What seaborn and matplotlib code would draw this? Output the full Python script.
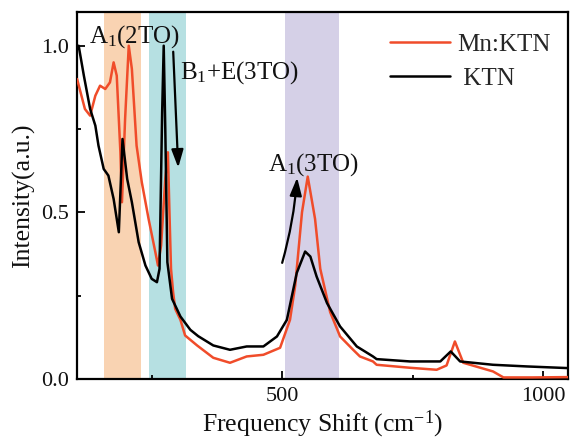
import numpy as np
import matplotlib
matplotlib.use('Agg')
from matplotlib import pyplot as plt
from matplotlib.ticker import MultipleLocator
import seaborn as sns

# Raman spectra (frequency shift in cm-1, intensity a.u.)
mn_shift = [107, 122, 132, 142, 151, 161, 170, 177, 183, 190, 193, 199, 206,
            212, 221, 231, 244, 257, 262, 268, 276, 281, 284, 287, 291, 295,
            305, 314, 337, 368, 400, 432, 464, 496, 515, 525, 538, 549, 563,
            573, 592, 611, 636, 649, 674, 681, 745, 796, 815, 831, 847, 904,
            924, 980, 1048]
mn_intensity = [0.90, 0.81, 0.79, 0.85, 0.88, 0.87, 0.89, 0.95, 0.91, 0.68,
                0.53, 0.78, 1.00, 0.93, 0.70, 0.59, 0.48, 0.38, 0.34, 0.40,
                0.60, 0.68, 0.50, 0.33, 0.26, 0.21, 0.177, 0.13, 0.10, 0.063,
                0.048, 0.067, 0.072, 0.093, 0.177, 0.28, 0.50, 0.607, 0.48,
                0.33, 0.20, 0.127, 0.087, 0.067, 0.052, 0.042, 0.033, 0.027,
                0.040, 0.112, 0.048, 0.022, 0.004, 0.004, 0.005]

ktn_shift = [107, 110, 120, 132, 142, 148, 158, 167, 177, 183, 187, 194, 203,
             212, 225, 238, 250, 260, 265, 270, 273, 276, 280, 289, 305, 324,
             339, 368, 400, 432, 464, 490, 509, 528, 544, 554, 566, 586, 611,
             643, 674, 681, 745, 803, 823, 841, 904, 969, 1048]
ktn_intensity = [0.99, 1.00, 0.91, 0.81, 0.76, 0.70, 0.63, 0.61, 0.54, 0.48,
                 0.44, 0.72, 0.60, 0.53, 0.41, 0.34, 0.30, 0.29, 0.33, 0.80,
                 1.00, 0.75, 0.35, 0.24, 0.187, 0.147, 0.128, 0.100, 0.087,
                 0.097, 0.097, 0.127, 0.177, 0.318, 0.382, 0.367, 0.307,
                 0.227, 0.157, 0.097, 0.067, 0.059, 0.052, 0.052, 0.082,
                 0.052, 0.042, 0.037, 0.032]

# highlighted mode regions
band_lo = [159, 245, 506]
band_hi = [229, 316, 609]
band_colors = ['#f9d3b2', '#b6e0e2', '#d5d0e7']

red = '#f04c2a'

sns.set_theme(style='ticks')
plt.rcParams['font.family'] = ['Liberation Serif', 'DejaVu Serif']
plt.rcParams['mathtext.fontset'] = 'custom'
plt.rcParams['mathtext.rm'] = 'Liberation Serif'
plt.rcParams['mathtext.it'] = 'Liberation Serif:italic'
plt.rcParams['axes.unicode_minus'] = False

fig = plt.figure(figsize=(5.71, 4.43), dpi=100)
ax = fig.add_axes([0.135, 0.145, 0.86, 0.827])

for lo, hi, c in zip(band_lo, band_hi, band_colors):
    ax.axvspan(lo, hi, color=c, lw=0, zorder=0)

sns.lineplot(x=mn_shift, y=mn_intensity, color=red, lw=1.8, sort=False,
             estimator=None, label='Mn:KTN', ax=ax, zorder=3)
sns.lineplot(x=ktn_shift, y=ktn_intensity, color='black', lw=1.8, sort=False,
             estimator=None, label=' KTN', ax=ax, zorder=4)

ax.set_xlim(107, 1048)
ax.set_ylim(0, 1.1)
ax.xaxis.set_major_locator(MultipleLocator(500))
ax.xaxis.set_minor_locator(MultipleLocator(250))
ax.yaxis.set_major_locator(MultipleLocator(0.5))
ax.yaxis.set_minor_locator(MultipleLocator(0.25))
ax.tick_params(which='both', direction='in', width=1.3, labelsize=16,
               top=False, right=False, color='black', labelcolor='#111111')
ax.tick_params(which='major', length=6, pad=6)
ax.tick_params(which='minor', length=3)
for s in ax.spines.values():
    s.set_linewidth(1.6)
    s.set_color('black')

ax.set_xlabel('Frequency Shift (cm$^{\\mathregular{-1}}$)', fontsize=18.5,
              labelpad=2, color='#111111')
ax.set_ylabel('Intensity(a.u.)', fontsize=18.5, labelpad=4, color='#111111')

ax.legend(loc='upper right', bbox_to_anchor=(1.0, 0.99), frameon=False,
          fontsize=18, handlelength=2.4, handletextpad=0.3, labelspacing=0.45,
          borderaxespad=0.3)

txt = dict(fontsize=18, color='#111111', ha='left', va='baseline')
ax.text(130, 1.01, 'A$_{\\mathregular{1}}$(2TO)', **txt)
ax.text(304, 0.90, 'B$_{\\mathregular{1}}$+E(3TO)', **txt)
ax.text(473, 0.625, 'A$_{\\mathregular{1}}$(3TO)', **txt)

arrow = dict(arrowstyle='-|>,head_length=0.9,head_width=0.3', color='black',
             lw=1.6, shrinkA=0, shrinkB=0)
ax.annotate('', xy=(300.8, 0.634), xytext=(291.2, 0.982),
            arrowprops=arrow)
ax.annotate('', xy=(528.7, 0.604), xytext=(500, 0.348),
            arrowprops=dict(arrow, connectionstyle='arc3,rad=0.05'))

plt.savefig('out.png', dpi=100)
